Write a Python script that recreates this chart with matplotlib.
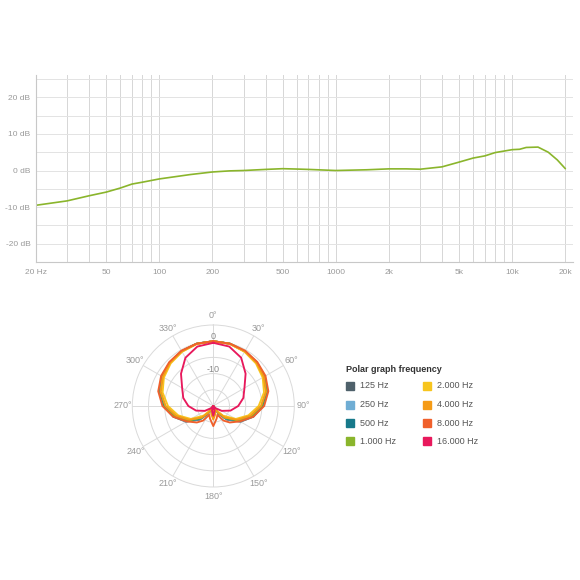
import numpy as np
import matplotlib
matplotlib.use("Agg")
import matplotlib.pyplot as plt
from matplotlib.patches import Rectangle
from matplotlib.ticker import FixedLocator, NullFormatter

plt.rcParams["font.family"] = ["Liberation Sans", "DejaVu Sans"]

# =========================
# Data
# =========================

fr_freq = [20, 30, 40, 50, 60, 70, 80, 100, 150, 200, 250, 300, 400, 500, 600,
           700, 1000, 1500, 2000, 2500, 3000, 4000, 5000, 6000, 7000, 8000,
           10000, 11000, 12000, 14000, 16000, 18000, 20000]
fr_db = [-9.5, -8.3, -6.9, -5.9, -4.8, -3.7, -3.2, -2.3, -1.1, -0.4, -0.1, 0.0,
         0.3, 0.5, 0.4, 0.3, 0.0, 0.2, 0.45, 0.45, 0.35, 1.0, 2.3, 3.4, 4.0,
         4.9, 5.7, 5.8, 6.3, 6.4, 5.0, 2.9, 0.5]

fr_ytick_vals = [-20, -10, 0, 10, 20]
fr_ytick_labels = ["-20 dB", "-10 dB", "0 dB", "10 dB", "20 dB"]
fr_xtick_vals = [20, 50, 100, 200, 500, 1000, 2000, 5000, 10000, 20000]
fr_xtick_labels = ["20 Hz", "50", "100", "200", "500", "1000", "2k", "5k", "10k", "20k"]

# polar pattern, one half (0..180 deg), mirrored for the other side
polar_angles = [0, 15, 30, 45, 60, 75, 90, 105, 120, 135, 145, 155, 165, 180]
polar_125 = [0, -0.1, -0.5, -1.0, -1.7, -2.8, -4.6, -7.2, -10.3, -14.0, -17.0, -20, -18.0, -16.5]
polar_250 = [0, -0.1, -0.5, -1.0, -1.7, -2.9, -4.8, -7.4, -10.5, -14.3, -17.3, -20, -18.2, -16.8]
polar_500 = [0, -0.1, -0.5, -1.0, -1.8, -3.0, -4.9, -7.5, -10.7, -14.5, -17.5, -20, -18.0, -16.5]
polar_1000 = [0, -0.1, -0.5, -1.1, -1.9, -3.1, -5.1, -7.8, -11.0, -14.8, -17.8, -20, -18.3, -16.8]
polar_2000 = [0, -0.2, -0.7, -1.4, -2.4, -3.8, -6.0, -8.8, -12.0, -15.8, -18.5, -20, -19.0, -17.8]
polar_4000 = [0, -0.1, -0.5, -1.1, -2.0, -3.2, -5.3, -8.2, -11.5, -15.0, -17.5, -20, -17.5, -15.8]
polar_8000 = [0, -0.1, -0.3, -0.8, -1.4, -2.4, -4.3, -7.2, -10.5, -12.8, -14.5, -17.0, -16.0, -13.8]
polar_16000 = [-0.5, -1.0, -2.8, -5.9, -8.9, -10.4, -12.3, -14.5, -17.0, -19.0, -20, -20, -18.5, -17.0]

polar_labels = ["125 Hz", "250 Hz", "500 Hz", "1.000 Hz",
                "2.000 Hz", "4.000 Hz", "8.000 Hz", "16.000 Hz"]
polar_colors = ["#4f616b", "#6fadd4", "#17798a", "#8ab52c",
                "#f7c51e", "#f59b16", "#f0602b", "#e8195c"]
polar_series = [polar_125, polar_250, polar_500, polar_1000,
                polar_2000, polar_4000, polar_8000, polar_16000]

W, H = 580, 580
GRID = "#e3e3e3"
VGRID = "#d6d6d6"
TXT = "#9a9a9a"


def px_box(left, top, right, bottom):
    """pixel box -> figure fraction [l, b, w, h]"""
    return [left / W, 1 - bottom / H, (right - left) / W, (bottom - top) / H]


fig = plt.figure(figsize=(W / 100, H / 100), dpi=100)
fig.patch.set_facecolor("white")

# =========================
# Frequency response
# =========================
ax = fig.add_axes(px_box(36, 75, 573, 262))
ax.plot(fr_freq, fr_db, color="#8ab52c", lw=1.2, solid_capstyle="round")
ax.set_xscale("log")
ax.set_xlim(20, 22100)
ax.set_ylim(-25, 26.1)

ax.set_yticks(fr_ytick_vals)
ax.set_yticklabels(fr_ytick_labels)
ax.set_yticks([-25, -15, -5, 5, 15, 25], minor=True)
ax.yaxis.set_minor_formatter(NullFormatter())

ax.xaxis.set_major_locator(FixedLocator(fr_xtick_vals))
ax.set_xticklabels(fr_xtick_labels)
minor_x = [m * 10 ** e for e in range(1, 5) for m in range(1, 10)
           if 20 <= m * 10 ** e <= 20000]
ax.xaxis.set_minor_locator(FixedLocator(minor_x))
ax.xaxis.set_minor_formatter(NullFormatter())

ax.grid(True, which="both", axis="y", color=GRID, lw=0.7)
ax.grid(True, which="both", axis="x", color=VGRID, lw=0.7)
ax.set_axisbelow(True)
ax.tick_params(which="both", length=0)
ax.tick_params(axis="y", labelsize=6, labelcolor=TXT, pad=4)
ax.tick_params(axis="x", labelsize=6, labelcolor=TXT, pad=5)
for side in ("top", "right"):
    ax.spines[side].set_visible(False)
for side in ("left", "bottom"):
    ax.spines[side].set_color("#c8c8c8")
    ax.spines[side].set_linewidth(0.8)

# =========================
# Polar pattern
# =========================
pax = fig.add_axes(px_box(132.3, 325, 294.3, 487), projection="polar")
pax.set_theta_zero_location("N")
pax.set_theta_direction(-1)
pax.set_ylim(-20, 5)

half = np.deg2rad(polar_angles)
theta = np.concatenate([half, 2 * np.pi - half[::-1][1:]])
for vals, col in zip(polar_series, polar_colors):
    r = np.concatenate([vals, vals[::-1][1:]])
    pax.plot(theta, r, color=col, lw=1.35)

pax.set_thetagrids(np.arange(0, 360, 30),
                   [f"{a}°" for a in range(0, 360, 30)])
pax.tick_params(axis="x", labelsize=6.5, labelcolor=TXT, pad=-0.5, length=0)
pax.set_yticks([-15, -10, -5, 0])
pax.set_yticklabels([])
pax.grid(True, color="#dadada", lw=0.7)
pax.spines["polar"].set_color("#dadada")
pax.spines["polar"].set_linewidth(0.7)
pax.text(0, 1.3, "0", ha="center", va="center", fontsize=6.5, color="#888888")
pax.text(0, -8.8, "-10", ha="center", va="center", fontsize=6.5, color="#888888")

# =========================
# Legend
# =========================
fig.text(346 / W, 1 - 369 / H, "Polar graph frequency", fontsize=6.5,
         fontweight="bold", color="#333333", va="center", ha="left")
row_y = [386, 404.5, 423, 441]
col_x = [346, 423]
for i, (lab, col) in enumerate(zip(polar_labels, polar_colors)):
    cx = col_x[i // 4]
    cy = row_y[i % 4]
    fig.patches.append(Rectangle((cx / W, 1 - (cy + 4) / H), 8 / W, 8 / H,
                                 transform=fig.transFigure, color=col,
                                 figure=fig))
    fig.text((cx + 14) / W, 1 - cy / H, lab, fontsize=6.5, color="#555555",
             va="center", ha="left")

fig.savefig("out.png", dpi=100, facecolor="white")
